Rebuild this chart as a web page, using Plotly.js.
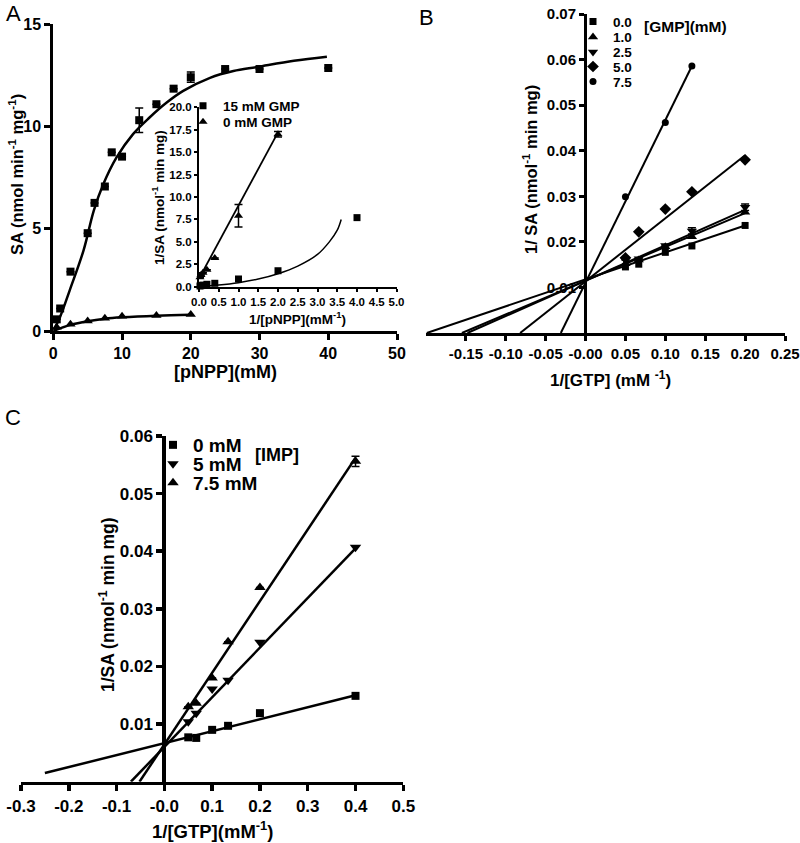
<!DOCTYPE html>
<html><head><meta charset="utf-8">
<script src="https://cdn.plot.ly/plotly-3.0.1.min.js"></script>
<style>html,body{margin:0;padding:0;background:#fff}#chart{width:800px;height:843px}</style>
</head><body><div id="chart"></div>
<script>
// ---------- Panel A (main): SA vs [pNPP] ----------
const aSubstrate = [0.5, 1, 2.5, 5, 6, 7.5, 8.5, 10, 12.5, 15, 17.5, 20, 25, 30, 40];
const aSaHigh    = [0.57, 1.1, 2.9, 4.78, 6.26, 7.06, 8.73, 8.52, 10.3, 11.08, 11.84, 12.4, 12.8, 12.8, 12.85];
const aSaHighErr = [0, 0, 0, 0, 0, 0, 0, 0, 0.6, 0, 0, 0.25, 0, 0, 0];
const aLowX      = [0.5, 2.5, 5, 7.5, 10, 15, 20];
const aSaLow     = [0.18, 0.33, 0.49, 0.62, 0.72, 0.76, 0.81];
const aFitHighX  = [0, 1, 2.4, 4.4, 5.9, 7.3, 9.2, 11.6, 14, 16.5, 18.9, 22.8, 26.2, 29.7, 35, 39.8];
const aFitHighY  = [0, 0.7, 2.0, 3.94, 5.89, 7.19, 8.48, 9.62, 10.43, 11.16, 11.73, 12.37, 12.7, 12.9, 13.2, 13.4];
const aFitLowX   = [0, 2.5, 5, 7.5, 10, 15, 20];
const aFitLowY   = [0, 0.3, 0.48, 0.6, 0.67, 0.75, 0.79];

// ---------- Panel A (inset): 1/SA vs 1/[pNPP] ----------
const insetSqX     = [0.025, 0.05, 0.1, 0.2, 0.4, 1, 2, 4];
const insetSqY     = [0.08, 0.12, 0.18, 0.27, 0.38, 0.86, 1.78, 7.7];
const insetTriX    = [0.025, 0.05, 0.1, 0.2, 0.4, 1, 2];
const insetTriY    = [1.05, 1.3, 1.55, 1.9, 3.2, 7.9, 17.0];
const insetTriErr  = [0, 0, 0, 0, 0, 1.25, 0.3];
const insetTriFitX = [0, 2];
const insetTriFitY = [0.9, 17.2];
const insetSqFitX  = [0, 0.5, 1, 1.5, 2, 2.5, 3, 3.3, 3.5, 3.6];
const insetSqFitY  = [0.05, 0.2, 0.45, 0.85, 1.45, 2.3, 3.6, 5.0, 6.3, 7.5];
const insetLegendNames = ['15 mM GMP', '0 mM GMP'];

// ---------- Panel B: 1/SA vs 1/[GTP], [GMP] series ----------
const bX      = [0.05, 0.0667, 0.1, 0.1333, 0.2];
const bGmp0   = [0.0145, 0.0151, 0.0177, 0.0191, 0.0236];
const bGmp1   = [0.0152, 0.0160, 0.0189, 0.0211, 0.0265];
const bGmp25  = [0.0160, 0.0163, 0.0192, 0.0224, 0.0276];
const bGmp25Err = [0, 0, 0, 0.0007, 0.0007];
const bGmp5   = [0.0165, 0.0222, 0.0272, 0.0310, 0.0380];
const bX75    = [0.05, 0.1, 0.1333];
const bGmp75  = [0.0299, 0.0462, 0.0586];
const bFitX0  = [-0.199, 0.2],  bFitY0  = [0, 0.0236];
const bFitX1  = [-0.155, 0.2],  bFitY1  = [0, 0.0263];
const bFitX25 = [-0.148, 0.2],  bFitY25 = [0, 0.0270];
const bFitX5  = [-0.082, 0.2],  bFitY5  = [0, 0.0390];
const bFitX75 = [-0.031, 0.1333], bFitY75 = [0, 0.0586];
const bLegendNames = ['0.0', '1.0', '2.5', '5.0', '7.5'];

// ---------- Panel C: 1/SA vs 1/[GTP], [IMP] series ----------
const cX       = [0.05, 0.0667, 0.1, 0.1333, 0.2, 0.4];
const cImp0    = [0.0077, 0.0076, 0.0090, 0.0097, 0.0119, 0.0149];
const cImp5    = [0.0104, 0.0119, 0.0161, 0.0176, 0.0242, 0.0407];
const cImp75   = [0.0130, 0.0136, 0.0180, 0.0243, 0.0337, 0.0556];
const cImp75Err = [0, 0, 0, 0, 0, 0.0009];
const cFitX0  = [-0.25, 0.4],  cFitY0  = [0.0015, 0.0150];
const cFitX5  = [-0.070, 0.4], cFitY5  = [0, 0.0405];
const cFitX75 = [-0.052, 0.4], cFitY75 = [0, 0.0562];
const cLegendNames = ['0 mM', '5 mM', '7.5 mM'];

// ---------- helpers ----------
const W = 800, H = 843;
const fx = p => p / W, fy = p => 1 - p / H;
const FONT = 'Liberation Sans, Arial, Helvetica, sans-serif';
const tf = (s, w) => ({family: FONT, size: s, color: '#000', weight: w || 'bold'});

function line(x, y, xa, ya, w, shape) {
  return {x: x, y: y, xaxis: xa, yaxis: ya, type: 'scatter', mode: 'lines',
    line: {color: '#000', width: w, shape: shape || 'linear', smoothing: 1},
    showlegend: false, hoverinfo: 'skip', cliponaxis: false};
}
function pts(x, y, xa, ya, sym, size, name, legend, err) {
  const t = {x: x, y: y, xaxis: xa, yaxis: ya, type: 'scatter', mode: 'markers',
    marker: {symbol: sym, size: size, color: '#000'}, name: name || '',
    showlegend: !!legend, cliponaxis: false};
  if (legend) t.legend = legend;
  if (err) t.error_y = {type: 'data', array: err, visible: true, color: '#000', thickness: 1.5, width: 4};
  return t;
}
function ax(o) {
  return Object.assign({showline: true, linecolor: '#000', ticks: 'outside', tickcolor: '#000',
    showgrid: false, zeroline: false, fixedrange: true, layer: 'above traces'}, o);
}

const traces = [
  // Panel A main
  line(aFitHighX, aFitHighY, 'x', 'y', 2.5, 'spline'),
  line(aFitLowX, aFitLowY, 'x', 'y', 2.5, 'spline'),
  pts(aSubstrate, aSaHigh, 'x', 'y', 'square', 8, '', null, aSaHighErr),
  pts(aLowX, aSaLow, 'x', 'y', 'triangle-up', 9),
  // Inset
  line(insetTriFitX, insetTriFitY, 'x2', 'y2', 1.8),
  line(insetSqFitX, insetSqFitY, 'x2', 'y2', 1.5, 'spline'),
  pts(insetSqX, insetSqY, 'x2', 'y2', 'square', 7, insetLegendNames[0], 'legend'),
  pts(insetTriX, insetTriY, 'x2', 'y2', 'triangle-up', 8, insetLegendNames[1], 'legend2', insetTriErr),
  // Panel B
  line(bFitX0, bFitY0, 'x3', 'y3', 2),
  line(bFitX1, bFitY1, 'x3', 'y3', 2),
  line(bFitX25, bFitY25, 'x3', 'y3', 2),
  line(bFitX5, bFitY5, 'x3', 'y3', 2),
  line(bFitX75, bFitY75, 'x3', 'y3', 2),
  pts(bX, bGmp0, 'x3', 'y3', 'square', 7, bLegendNames[0], 'legend3'),
  pts(bX, bGmp1, 'x3', 'y3', 'triangle-up', 9, bLegendNames[1], 'legend4'),
  pts(bX, bGmp25, 'x3', 'y3', 'triangle-down', 9, bLegendNames[2], 'legend5', bGmp25Err),
  pts(bX, bGmp5, 'x3', 'y3', 'diamond', 9, bLegendNames[3], 'legend6'),
  pts(bX75, bGmp75, 'x3', 'y3', 'circle', 7, bLegendNames[4], 'legend7'),
  // Panel C
  line(cFitX0, cFitY0, 'x4', 'y4', 2.5),
  line(cFitX5, cFitY5, 'x4', 'y4', 2.5),
  line(cFitX75, cFitY75, 'x4', 'y4', 2.5),
  pts(cX, cImp0, 'x4', 'y4', 'square', 8, cLegendNames[0], 'legend8'),
  pts(cX, cImp5, 'x4', 'y4', 'triangle-down', 10, cLegendNames[1], 'legend9'),
  pts(cX, cImp75, 'x4', 'y4', 'triangle-up', 10, cLegendNames[2], 'legend10', cImp75Err)
];

function ann(text, x, y, size, opts) {
  return Object.assign({text: text, x: fx(x), y: fy(y), xref: 'paper', yref: 'paper',
    showarrow: false, font: tf(size), xanchor: 'center', yanchor: 'middle'}, opts || {});
}
function leg(x, y, size) {
  return {bgcolor: 'rgba(0,0,0,0)', borderwidth: 0, xanchor: 'left', yanchor: 'middle',
    x: fx(x), y: fy(y), font: tf(size), itemclick: false, itemdoubleclick: false};
}

const layout = {
  width: W, height: H, margin: {l: 0, r: 0, t: 0, b: 0},
  paper_bgcolor: '#fff', plot_bgcolor: 'rgba(0,0,0,0)',
  font: {family: FONT, color: '#000'},
  showlegend: true,
  xaxis: ax({domain: [fx(53.3), fx(397)], range: [0, 50], anchor: 'y', linewidth: 3, tickwidth: 3, ticklen: 6,
    tickvals: [0, 10, 20, 30, 40, 50], tickfont: tf(16)}),
  yaxis: ax({domain: [fy(331), fy(24)], range: [0, 15], anchor: 'x', linewidth: 3, tickwidth: 3, ticklen: 6,
    tickvals: [0, 5, 10, 15], tickfont: tf(16)}),
  xaxis2: ax({domain: [fx(199), fx(396.5)], range: [0, 5], anchor: 'y2', linewidth: 2, tickwidth: 2, ticklen: 3,
    tickvals: [0, 0.5, 1, 1.5, 2, 2.5, 3, 3.5, 4, 4.5, 5], tickformat: '.1f', tickfont: tf(11.5)}),
  yaxis2: ax({domain: [fy(286.7), fy(107.3)], range: [0, 20], anchor: 'x2', linewidth: 2, tickwidth: 2, ticklen: 3,
    tickvals: [0, 2.5, 5, 7.5, 10, 12.5, 15, 17.5, 20], tickformat: '.1f', tickfont: tf(11.5)}),
  xaxis3: ax({domain: [fx(426), fx(785)], range: [-0.2, 0.25], anchor: 'y3', linewidth: 3, tickwidth: 3, ticklen: 5,
    tickvals: [-0.15, -0.10, -0.05, 0, 0.05, 0.10, 0.15, 0.20, 0.25],
    ticktext: ['-0.15', '-0.10', '-0.05', '-0.00', '0.05', '0.10', '0.15', '0.20', '0.25'], tickfont: tf(15)}),
  yaxis3: ax({domain: [fy(333), fy(14)], range: [0, 0.07], anchor: 'free', position: fx(585), linewidth: 3, tickwidth: 3, ticklen: 5,
    tickvals: [0.01, 0.02, 0.03, 0.04, 0.05, 0.06, 0.07], tickformat: '.2f', tickfont: tf(15)}),
  xaxis4: ax({domain: [fx(21), fx(403.3)], range: [-0.3, 0.5], anchor: 'y4', linewidth: 3.5, tickwidth: 3.5, ticklen: 6,
    tickvals: [-0.3, -0.2, -0.1, 0, 0.1, 0.2, 0.3, 0.4, 0.5],
    ticktext: ['-0.3', '-0.2', '-0.1', '-0.0', '0.1', '0.2', '0.3', '0.4', '0.5'], tickfont: tf(17)}),
  yaxis4: ax({domain: [fy(781.7), fy(436)], range: [0, 0.06], anchor: 'free', position: fx(163.3), linewidth: 3.5, tickwidth: 3.5, ticklen: 6,
    tickvals: [0.01, 0.02, 0.03, 0.04, 0.05, 0.06], tickformat: '.2f', tickfont: tf(17)}),
  legend:   leg(183, 106, 13.5),
  legend2:  leg(183, 122, 13.5),
  legend3:  leg(573, 21.7, 13.5),
  legend4:  leg(573, 37.2, 13.5),
  legend5:  leg(573, 52.3, 13.5),
  legend6:  leg(573, 66.7, 13.5),
  legend7:  leg(573, 81.7, 13.5),
  legend8:  leg(153, 445, 19),
  legend9:  leg(153, 464, 19),
  legend10: leg(153, 483, 19),
  annotations: [
    ann('A', 13, 14, 22, {font: tf(22, 'normal')}),
    ann('B', 426, 17, 22, {font: tf(22, 'normal')}),
    ann('C', 13, 417, 22, {font: tf(22, 'normal')}),
    ann('SA (nmol min<sup>-1</sup> mg<sup>-1</sup>)', 16, 175, 16.5, {textangle: -90}),
    ann('[pNPP](mM)', 225, 372, 18),
    ann('1/SA (nmol<sup>-1</sup> min mg)', 158, 198, 13.5, {textangle: -90}),
    ann('1/[pNPP](mM<sup>-1</sup>)', 297, 318, 13.5),
    ann('1/ SA (nmol<sup>-1</sup> min mg)', 530, 170, 16.5, {textangle: -90}),
    ann('1/[GTP] (mM <sup>-1</sup>)', 610, 379, 17),
    ann('[GMP](mM)', 685, 26, 15.5),
    ann('1/SA (nmol<sup>-1</sup> min mg)', 107, 605, 17.5, {textangle: -90}),
    ann('1/[GTP](mM<sup>-1</sup>)', 213, 830, 18.5),
    ann('[IMP]', 277, 455, 18)
  ]
};

Plotly.newPlot('chart', traces, layout, {staticPlot: true, displayModeBar: false});
</script>
</body></html>
